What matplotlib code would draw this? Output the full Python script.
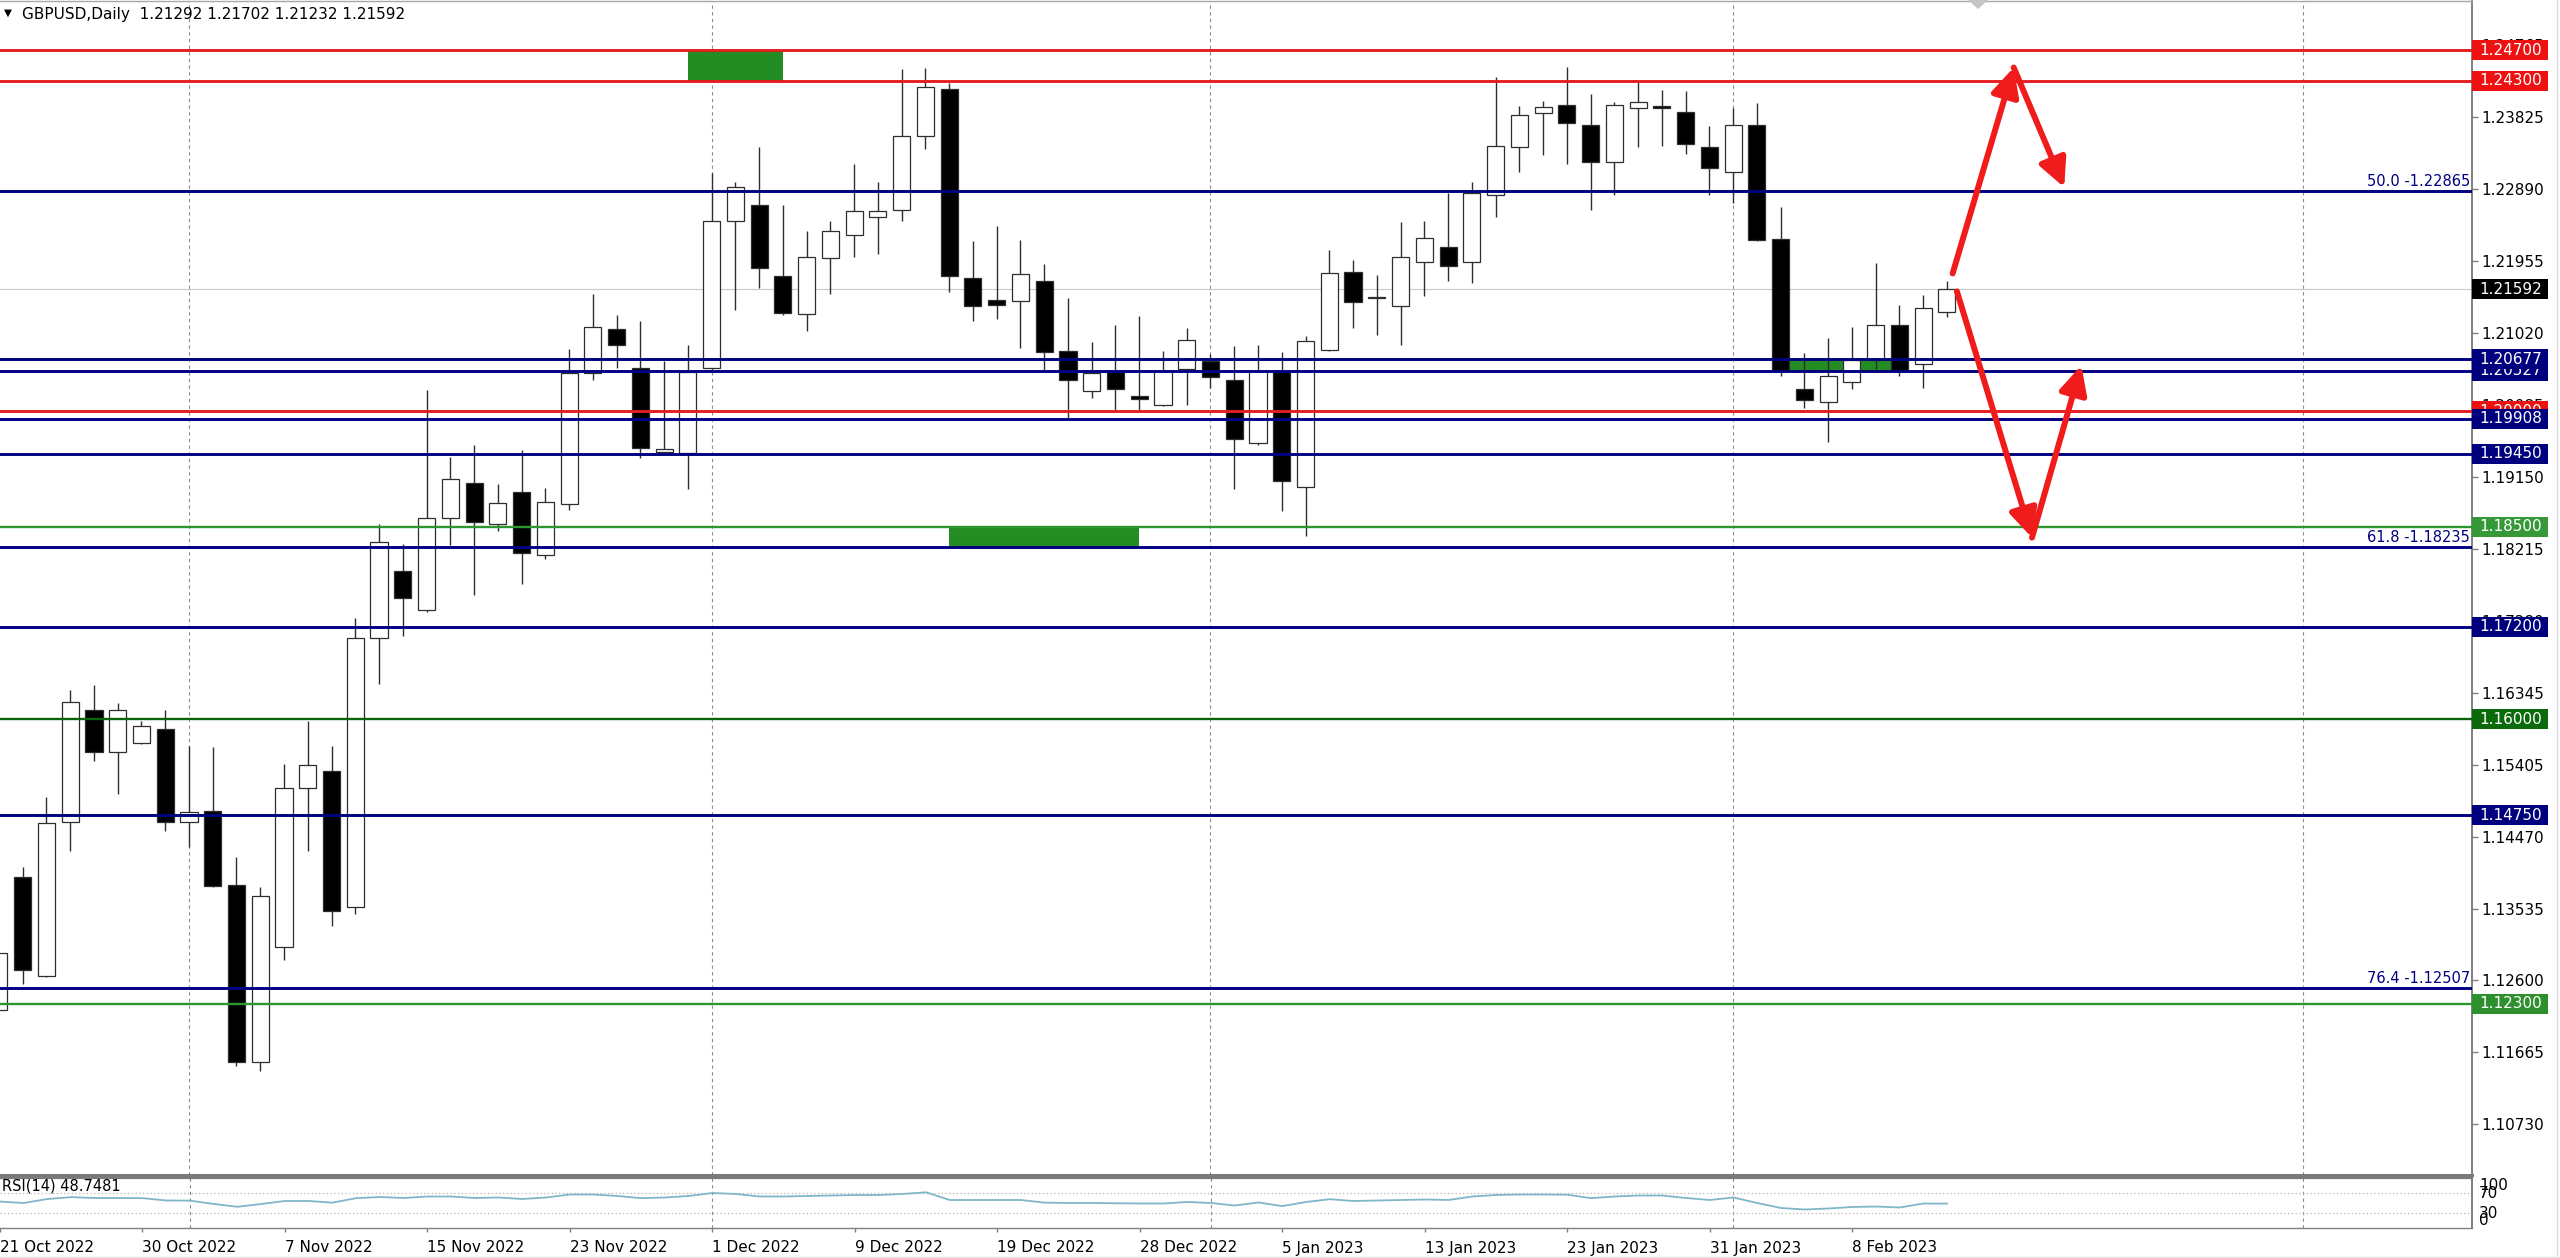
import matplotlib
matplotlib.use("Agg")
import matplotlib.pyplot as plt
import matplotlib.transforms as mtransforms
from matplotlib.patches import Rectangle, FancyArrowPatch, Polygon
import numpy as np

# ---------------- data ----------------
title_symbol = "GBPUSD,Daily"
title_ohlc = "1.21292 1.21702 1.21232 1.21592"
rsi_title = "RSI(14) 48.7481"

opens = [1.1222, 1.1394, 1.1266, 1.1466, 1.1612, 1.1557, 1.1569, 1.1587, 1.1466, 1.1480,
         1.1384, 1.1154, 1.1304, 1.1510, 1.1533, 1.1355, 1.1705, 1.1792, 1.1742, 1.1862,
         1.1907, 1.1854, 1.1895, 1.1813, 1.1880, 1.2050, 1.2107, 1.2057, 1.1947, 1.1946,
         1.2056, 1.2247, 1.2269, 1.2176, 1.2127, 1.2199, 1.2230, 1.2253, 1.2262, 1.2358,
         1.2419, 1.2174, 1.2145, 1.2143, 1.2170, 1.2078, 1.2027, 1.2053, 1.2020, 1.2009,
         1.2055, 1.2066, 1.2041, 1.1959, 1.2053, 1.1902, 1.2080, 1.2181, 1.2149, 1.2137,
         1.2194, 1.2214, 1.2194, 1.2282, 1.2344, 1.2388, 1.2399, 1.2373, 1.2324, 1.2394,
         1.2397, 1.2390, 1.2344, 1.2312, 1.2373, 1.2224, 1.2029, 1.2012, 1.2038, 1.2067,
         1.2112, 1.2062, 1.21292]
highs = [1.1300, 1.1407, 1.1499, 1.1638, 1.1644, 1.1621, 1.1598, 1.1612, 1.1565, 1.1564,
         1.1421, 1.1381, 1.1541, 1.1598, 1.1565, 1.1731, 1.1853, 1.1828, 1.2028, 1.1941,
         1.1956, 1.1905, 1.1950, 1.1901, 1.2081, 1.2153, 1.2126, 1.2117, 1.2065, 1.2087,
         1.2310, 1.2299, 1.2344, 1.2269, 1.2234, 1.2248, 1.2322, 1.2299, 1.2445, 1.2446,
         1.2427, 1.2222, 1.2241, 1.2223, 1.2192, 1.2147, 1.2090, 1.2112, 1.2124, 1.2078,
         1.2108, 1.2075, 1.2085, 1.2087, 1.2077, 1.2098, 1.2210, 1.2197, 1.2178, 1.2246,
         1.2248, 1.2284, 1.2299, 1.2435, 1.2397, 1.2404, 1.2448, 1.2413, 1.2403, 1.2429,
         1.2418, 1.2417, 1.2371, 1.2395, 1.2401, 1.2266, 1.2076, 1.2096, 1.2110, 1.2193,
         1.2138, 1.2152, 1.21702]
lows = [1.1215, 1.1255, 1.1264, 1.1429, 1.1546, 1.1502, 1.1568, 1.1454, 1.1433, 1.1381,
        1.1149, 1.1142, 1.1287, 1.1428, 1.1331, 1.1347, 1.1645, 1.1708, 1.1739, 1.1826,
        1.1761, 1.1845, 1.1776, 1.1808, 1.1872, 1.2041, 1.2056, 1.1939, 1.1946, 1.1899,
        1.2052, 1.2132, 1.2161, 1.2126, 1.2104, 1.2153, 1.2201, 1.2205, 1.2247, 1.2341,
        1.2155, 1.2118, 1.2120, 1.2083, 1.2054, 1.1991, 1.2017, 1.2001, 1.2001, 1.2007,
        1.2008, 1.2031, 1.1899, 1.1956, 1.1871, 1.1838, 1.2078, 1.2109, 1.2099, 1.2086,
        1.2150, 1.2170, 1.2167, 1.2253, 1.2312, 1.2334, 1.2322, 1.2262, 1.2281, 1.2344,
        1.2345, 1.2335, 1.2282, 1.2271, 1.2222, 1.2046, 1.2004, 1.1960, 1.2029, 1.2055,
        1.2046, 1.2030, 1.21232]
closes = [1.1296, 1.1273, 1.1465, 1.1622, 1.1557, 1.1612, 1.1591, 1.1466, 1.1479, 1.1383,
          1.1154, 1.1370, 1.1510, 1.1540, 1.1351, 1.1706, 1.1830, 1.1757, 1.1862, 1.1912,
          1.1856, 1.1881, 1.1816, 1.1882, 1.2050, 1.2110, 1.2086, 1.1952, 1.1951, 1.2051,
          1.2248, 1.2292, 1.2186, 1.2128, 1.2201, 1.2234, 1.2260, 1.2260, 1.2358, 1.2422,
          1.2176, 1.2137, 1.2139, 1.2179, 1.2077, 1.2041, 1.2050, 1.2029, 1.2016, 1.2053,
          1.2093, 1.2045, 1.1964, 1.2052, 1.1909, 1.2091, 1.2180, 1.2142, 1.2147, 1.2201,
          1.2226, 1.2189, 1.2284, 1.2345, 1.2386, 1.2396, 1.2375, 1.2324, 1.2399, 1.2403,
          1.2395, 1.2348, 1.2317, 1.2373, 1.2223, 1.2054, 1.2015, 1.2046, 1.2067, 1.2112,
          1.2054, 1.2134, 1.21592]
rsi_values = [52.8, 50, 58, 61.7, 60, 60, 59.7, 55, 54.8, 48,
              42.4, 48, 54, 54, 50.7, 59.7, 62, 60, 63, 63,
              60, 61, 58, 61, 67, 67, 64, 59.7, 61, 64,
              70, 68, 63, 63, 64, 65, 66, 66, 68, 71.4,
              56, 56, 56, 56, 50.7, 50, 50, 49.5, 49, 49,
              52, 50, 45, 51, 43.8, 52, 57.6, 54, 55, 56,
              57, 56, 63, 66, 67, 67, 66.6, 59.7, 63, 65,
              65, 60, 56, 61, 50, 40, 37, 39, 42, 43,
              41, 49, 48.75]

date_labels = ["21 Oct 2022", "30 Oct 2022", "7 Nov 2022", "15 Nov 2022", "23 Nov 2022",
               "1 Dec 2022", "9 Dec 2022", "19 Dec 2022", "28 Dec 2022", "5 Jan 2023",
               "13 Jan 2023", "23 Jan 2023", "31 Jan 2023", "8 Feb 2023"]
date_label_bars = [0, 6, 12, 18, 24, 30, 36, 42, 48, 54, 60, 66, 72, 78]
month_grid_bars = [8, 30, 51, 73, 97]

price_ticks = [1.24765, 1.23825, 1.22890, 1.21955, 1.21020, 1.20085, 1.19150, 1.18215,
               1.17280, 1.16345, 1.15405, 1.14470, 1.13535, 1.12600, 1.11665, 1.10730]

# horizontal levels (value, colour)
level_values = [1.24700, 1.24300, 1.22865, 1.20677, 1.20527, 1.20000, 1.19908, 1.19450,
                1.18500, 1.18235, 1.17200, 1.16000, 1.14750, 1.12507, 1.12300]
level_colors = ["#e41e22", "#e41e22", "#000080", "#000080", "#000080", "#e41e22", "#000080",
                "#000080", "#2e962e", "#000080", "#000080", "#0a640a", "#000080", "#000080",
                "#2e962e"]
# labelled price boxes in drawing order (later covers earlier)
box_values = [1.24700, 1.24300, 1.20527, 1.20677, 1.20000, 1.19908, 1.19450, 1.18500,
              1.17200, 1.16000, 1.14750, 1.12300]
box_colors = ["#ee1111", "#ee1111", "#00007e", "#00007e", "#ee1111", "#00007e", "#00007e",
              "#35993a", "#00007e", "#0b6a0b", "#00007e", "#2e8f2e"]
current_price = 1.21592

fib_values = [1.22865, 1.18235, 1.12507]
fib_texts = ["50.0 -1.22865", "61.8 -1.18235", "76.4 -1.12507"]

zone_x0 = [29, 40, 75]
zone_x1 = [33, 48, 80]
zone_lo = [1.24300, 1.18235, 1.20527]
zone_hi = [1.24700, 1.18500, 1.20677]

arrow_up_x = [82.24, 84.81, 86.94]
arrow_up_y = [1.21794, 1.24472, 1.22913]
arrow_dn_x = [82.42, 85.58, 87.66]
arrow_dn_y = [1.21561, 1.18359, 1.20599]

# ---------------- layout ----------------
W, H = 2560, 1258
fig = plt.figure(figsize=(W / 100, H / 100), dpi=100)
fig.patch.set_facecolor("white")
plt.rcParams["font.family"] = ["DejaVu Sans"]

ax_right_px = 2472
ax = fig.add_axes([0, 1 - 1175 / H, ax_right_px / W, 1174 / H])
rx = fig.add_axes([0, 1 - 1228 / H, ax_right_px / W, 50 / H])

bar_px = 23.756
x_left = 1.06 / bar_px
x_right = x_left + ax_right_px / bar_px
ymin, ymax = 1.100707, 1.253372

for a in (ax, rx):
    a.set_xlim(x_left, x_right)
    a.set_facecolor("white")
    a.spines["left"].set_visible(False)
    for g in month_grid_bars:
        a.axvline(g, color="#8c8c8c", lw=0.8, ls=(0, (3, 3)), zorder=1)
ax.set_ylim(ymin, ymax)

# spines
ax.spines["top"].set_color("#a8a8a8"); ax.spines["top"].set_linewidth(1.0)
ax.spines["right"].set_color("#808080"); ax.spines["right"].set_linewidth(1.4)
ax.spines["bottom"].set_color("#7a7a7a"); ax.spines["bottom"].set_linewidth(2.2)
rx.spines["top"].set_color("#7a7a7a"); rx.spines["top"].set_linewidth(1.6)
rx.spines["right"].set_color("#808080"); rx.spines["right"].set_linewidth(1.4)
rx.spines["bottom"].set_color("#808080"); rx.spines["bottom"].set_linewidth(1.0)

# ---------------- candles ----------------
idx = np.arange(len(closes))
o = np.array(opens); h = np.array(highs); l = np.array(lows); c = np.array(closes)
up = c >= o
ax.vlines(idx, l, h, color="#2e2e2e", lw=1.0, zorder=3)
body = np.maximum(np.abs(c - o), 0.00012)
ax.bar(idx, body, bottom=np.minimum(o, c), width=0.72,
       color=np.where(up, "white", "black"), edgecolor="#2e2e2e", linewidth=0.9, zorder=4)

# zones (background rectangles)
for x0, x1, lo, hi in zip(zone_x0, zone_x1, zone_lo, zone_hi):
    ax.add_patch(Rectangle((x0, lo), x1 - x0, hi - lo, facecolor="#238c23",
                           edgecolor="none", zorder=2.5))

# current price line
ax.axhline(current_price, color="#c8c8c8", lw=0.8, zorder=2)

# levels
for v, col in zip(level_values, level_colors):
    lw = 1.7 if col in ("#2e962e", "#0a640a") else 2.1
    ax.axhline(v, color=col, lw=lw, zorder=5)

# fibo texts
bt = mtransforms.blended_transform_factory(ax.transAxes, ax.transData)
for v, t in zip(fib_values, fib_texts):
    ax.annotate(t, xy=(2470 / ax_right_px, v), xycoords=bt, xytext=(0, 1.5),
                textcoords="offset points", ha="right", va="bottom",
                color="#000080", fontsize=10.5, zorder=6)

# arrows
def arrow(p0, p1):
    ax.add_patch(FancyArrowPatch(p0, p1, arrowstyle="-|>,head_length=0.85,head_width=0.42",
                                 mutation_scale=20, lw=4.3, color="#f01c1c",
                                 shrinkA=0, shrinkB=0, capstyle="round", joinstyle="round",
                                 zorder=8))
for xs, ys in ((arrow_up_x, arrow_up_y), (arrow_dn_x, arrow_dn_y)):
    arrow((xs[0], ys[0]), (xs[1], ys[1]))
    arrow((xs[1], ys[1]), (xs[2], ys[2]))

# ---------------- price axis ----------------
ax.set_xticks([])
ax.yaxis.tick_right()
ax.set_yticks(price_ticks)
ax.set_yticklabels([f"{t:.5f}" for t in price_ticks])
ax.tick_params(axis="y", direction="out", length=4, width=1, color="#808080",
               pad=3, labelsize=11, labelcolor="black")
ax.set_axisbelow(True)

box_w = 76 / ax_right_px
box_h = 20 / 7690
z = 10
for v, col in zip(box_values, box_colors):
    ax.add_patch(Rectangle((1.0, v - box_h / 2), box_w, box_h, transform=bt,
                           facecolor=col, edgecolor="none", clip_on=False, zorder=z))
    ax.text(1.0 + 7 / ax_right_px, v, f"{v:.5f}", transform=bt, color="white",
            fontsize=11, va="center", ha="left", clip_on=False, zorder=z + 1)
    z += 2
ax.add_patch(Rectangle((1.0, current_price - box_h / 2), box_w, box_h, transform=bt,
                       facecolor="black", edgecolor="none", clip_on=False, zorder=z))
ax.text(1.0 + 7 / ax_right_px, current_price, f"{current_price:.5f}", transform=bt,
        color="white", fontsize=11, va="center", ha="left", clip_on=False, zorder=z + 1)

# ---------------- RSI panel ----------------
rx.set_ylim(0, 100)
rx.plot(idx, rsi_values, color="#80b6c9", lw=1.3, zorder=3)
for lv in (70, 30):
    rx.axhline(lv, color="#b4b4b4", lw=0.9, ls=(0, (1, 2)), zorder=2)
rx.set_yticks([])
rbt = mtransforms.blended_transform_factory(rx.transAxes, rx.transData)
tx = 1.0 + 7 / ax_right_px
rx.text(tx, 100, "100", transform=rbt, fontsize=11, va="top", ha="left", clip_on=False)
rx.text(tx, 70, "70", transform=rbt, fontsize=11, va="center", ha="left", clip_on=False)
rx.text(tx, 30, "30", transform=rbt, fontsize=11, va="center", ha="left", clip_on=False)
rx.text(tx, 0, "0", transform=rbt, fontsize=11, va="bottom", ha="left", clip_on=False)
rx.text(2 / ax_right_px, 0.84, rsi_title, transform=rx.transAxes, fontsize=10.5,
        va="center", ha="left", color="black")

rx.set_xticks(date_label_bars)
rx.set_xticklabels(date_labels)
for t in rx.get_xticklabels():
    t.set_horizontalalignment("left")
rx.tick_params(axis="x", direction="out", length=3, width=1, color="#808080",
               pad=6, labelsize=11, labelcolor="black")

# ---------------- title & chrome ----------------
fig.text(4 / W, 1 - 13 / H, "\u25bc", fontsize=7.5, va="center", ha="left")
fig.text(22 / W, 1 - 14 / H, f"{title_symbol}  {title_ohlc}", fontsize=11,
         va="center", ha="left")
fig.add_artist(Polygon([[1968 / W, 1.0], [1988 / W, 1.0], [1978 / W, 1 - 9 / H]],
                       closed=True, transform=fig.transFigure, facecolor="#c4c4c4",
                       edgecolor="none"))
fig.add_artist(plt.Line2D([2557 / W, 2557 / W], [0, 1], transform=fig.transFigure,
                          color="#dcdcdc", lw=1))
fig.add_artist(plt.Line2D([0, 1], [1.5 / H, 1.5 / H], transform=fig.transFigure,
                          color="#e4e4e4", lw=1))

fig.savefig("out.png", dpi=100, facecolor="white")
